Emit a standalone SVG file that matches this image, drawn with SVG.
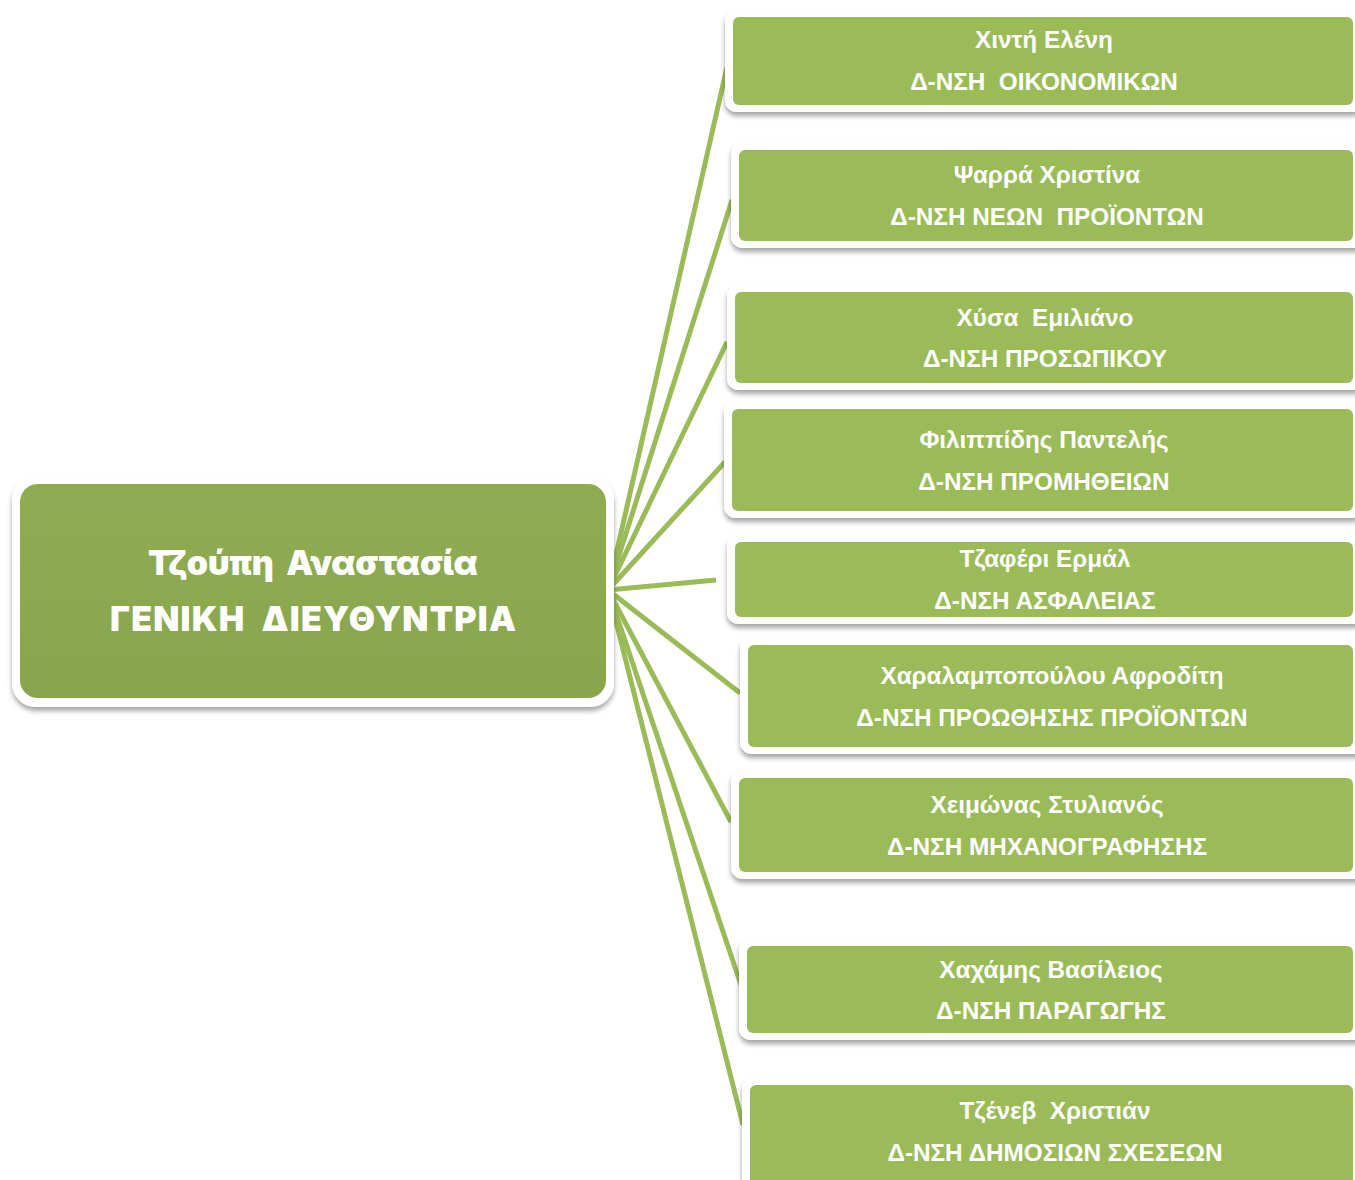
<svg xmlns="http://www.w3.org/2000/svg" width="1355" height="1180" viewBox="0 0 1355 1180" xml:space="preserve">
<defs>
<filter id="sh" x="-5%" y="-10%" width="110%" height="130%">
<feDropShadow dx="0" dy="4" stdDeviation="2.5" flood-color="#000" flood-opacity="0.35"/>
</filter>
<linearGradient id="cg" x1="0" y1="0" x2="0" y2="1">
<stop offset="0" stop-color="#8FAC52"/>
<stop offset="1" stop-color="#8AA64C"/>
</linearGradient>
</defs>
<style>
.rim{fill:#fff;filter:url(#sh)}
.box{fill:#9BBB59}
.t{font-family:"Liberation Sans",Arial,sans-serif;font-weight:bold;font-size:24.3px;fill:#fff;text-anchor:middle;white-space:pre}
.ct{font-family:"Inter","DejaVu Sans",sans-serif;font-weight:900;font-size:34px;fill:#fff;text-anchor:middle;white-space:pre}
.c{stroke:#9BBB59;stroke-width:5;fill:none;stroke-linecap:butt}
</style>
<rect width="1355" height="1180" fill="#fff"/>
<g id="connectors">
<line class="c" x1="608" y1="590" x2="727" y2="67"/>
<line class="c" x1="608" y1="590" x2="732" y2="200"/>
<line class="c" x1="608" y1="590" x2="727" y2="342"/>
<line class="c" x1="608" y1="590" x2="725" y2="462"/>
<line class="c" x1="608" y1="590" x2="716" y2="580"/>
<line class="c" x1="608" y1="590" x2="740" y2="693"/>
<line class="c" x1="608" y1="590" x2="731" y2="822"/>
<line class="c" x1="608" y1="590" x2="741" y2="985"/>
<line class="c" x1="608" y1="590" x2="743" y2="1125"/>
</g>
<g id="root">
<rect class="rim" x="12" y="476" width="602" height="231" rx="24"/>
<rect x="20" y="484" width="586" height="214" rx="18" fill="url(#cg)"/>
<text class="ct" x="313" y="575" textLength="330" lengthAdjust="spacing">Τζούπη  Αναστασία</text>
<text class="ct" x="313" y="631" textLength="406" lengthAdjust="spacing">ΓΕΝΙΚΗ  ΔΙΕΥΘΥΝΤΡΙΑ</text>
</g>
<g id="n1">
<rect class="rim" x="725" y="9" width="640" height="103" rx="12"/>
<rect class="box" x="733" y="17" width="620" height="88" rx="6"/>
<text class="t" x="1044" y="48">Χιντή Ελένη</text>
<text class="t" x="1044" y="90">Δ-ΝΣΗ  ΟΙΚΟΝΟΜΙΚΩΝ</text>
</g>
<g id="n2">
<rect class="rim" x="731" y="142" width="640" height="106" rx="12"/>
<rect class="box" x="739" y="150" width="614" height="91" rx="6"/>
<text class="t" x="1047" y="183">Ψαρρά Χριστίνα</text>
<text class="t" x="1047" y="225">Δ-ΝΣΗ ΝΕΩΝ  ΠΡΟΪΟΝΤΩΝ</text>
</g>
<g id="n3">
<rect class="rim" x="727" y="284" width="640" height="106" rx="12"/>
<rect class="box" x="735" y="292" width="618" height="91" rx="6"/>
<text class="t" x="1045" y="326">Χύσα  Εμιλιάνο</text>
<text class="t" x="1045" y="367">Δ-ΝΣΗ ΠΡΟΣΩΠΙΚΟΥ</text>
</g>
<g id="n4">
<rect class="rim" x="724" y="401" width="640" height="117" rx="12"/>
<rect class="box" x="732" y="409" width="621" height="102" rx="6"/>
<text class="t" x="1044" y="448">Φιλιππίδης Παντελής</text>
<text class="t" x="1044" y="490">Δ-ΝΣΗ ΠΡΟΜΗΘΕΙΩΝ</text>
</g>
<g id="n5">
<rect class="rim" x="727" y="534" width="640" height="90" rx="12"/>
<rect class="box" x="735" y="542" width="618" height="75" rx="6"/>
<text class="t" x="1045" y="567">Τζαφέρι Ερμάλ</text>
<text class="t" x="1045" y="609">Δ-ΝΣΗ ΑΣΦΑΛΕΙΑΣ</text>
</g>
<g id="n6">
<rect class="rim" x="740" y="637" width="640" height="117" rx="12"/>
<rect class="box" x="748" y="645" width="605" height="102" rx="6"/>
<text class="t" x="1052" y="684">Χαραλαμποπούλου Αφροδίτη</text>
<text class="t" x="1052" y="726">Δ-ΝΣΗ ΠΡΟΩΘΗΣΗΣ ΠΡΟΪΟΝΤΩΝ</text>
</g>
<g id="n7">
<rect class="rim" x="731" y="770" width="640" height="109" rx="12"/>
<rect class="box" x="739" y="778" width="614" height="94" rx="6"/>
<text class="t" x="1047" y="813">Χειμώνας Στυλιανός</text>
<text class="t" x="1047" y="855">Δ-ΝΣΗ ΜΗΧΑΝΟΓΡΑΦΗΣΗΣ</text>
</g>
<g id="n8">
<rect class="rim" x="739" y="938" width="640" height="102" rx="12"/>
<rect class="box" x="747" y="946" width="606" height="87" rx="6"/>
<text class="t" x="1051" y="978">Χαχάμης Βασίλειος</text>
<text class="t" x="1051" y="1019">Δ-ΝΣΗ ΠΑΡΑΓΩΓΗΣ</text>
</g>
<g id="n9">
<rect class="rim" x="742" y="1077" width="640" height="120" rx="12"/>
<rect class="box" x="750" y="1085" width="603" height="105" rx="6"/>
<text class="t" x="1055" y="1119">Τζένεβ  Χριστιάν</text>
<text class="t" x="1055" y="1161">Δ-ΝΣΗ ΔΗΜΟΣΙΩΝ ΣΧΕΣΕΩΝ</text>
</g>
</svg>
